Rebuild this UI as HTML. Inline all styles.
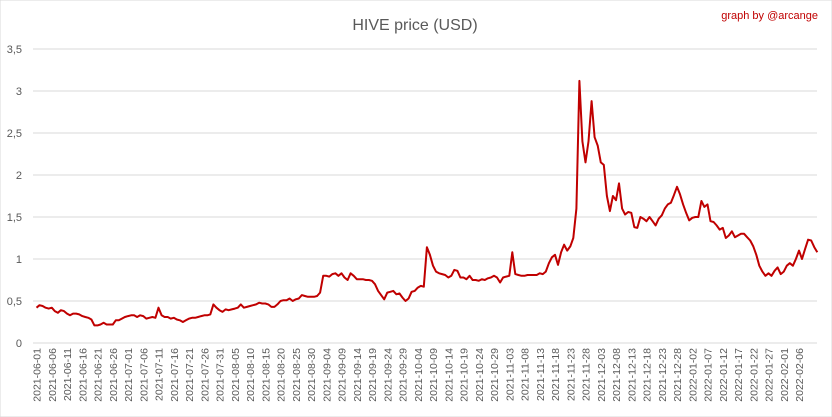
<!DOCTYPE html>
<html><head><meta charset="utf-8"><style>
body{margin:0;background:#fff;}
svg{display:block;font-family:"Liberation Sans",sans-serif;}
</style></head><body>
<svg id="chart" width="832" height="417" viewBox="0 0 832 417">
<rect x="0" y="0" width="832" height="417" fill="#fff" stroke="#d9d9d9"/>
<text x="415" y="30" text-anchor="middle" font-size="16" fill="#595959">HIVE price (USD)</text>
<text x="818" y="19" text-anchor="end" font-size="11" fill="#c00000">graph by @arcange</text>
<g id="grid"></g><g id="ylabels"></g><g id="xlabels"></g><g id="series"></g>
</svg>
<script>
const yTicks=[0,0.5,1,1.5,2,2.5,3,3.5];
const yTickLabels=["0","0,5","1","1,5","2","2,5","3","3,5"];
const startDate="2021-06-01";
const prices=[
0.42,0.45,0.44,0.42,0.41,0.42,0.38,0.36,0.39,0.38,0.35,0.33,0.35,0.35,0.34,0.32,0.31,0.3,0.28,0.21,0.21,0.22,0.24,0.22,0.22,0.22,0.27,0.27,0.29,0.31,
0.32,0.33,0.33,0.31,0.33,0.32,0.29,0.3,0.31,0.3,0.42,0.33,0.31,0.31,0.29,0.3,0.28,0.27,0.25,0.27,0.29,0.3,0.3,0.31,0.32,0.33,0.33,0.34,0.46,0.42,0.39,
0.37,0.4,0.39,0.4,0.41,0.42,0.46,0.42,0.43,0.44,0.45,0.46,0.48,0.47,0.47,0.46,0.43,0.43,0.46,0.5,0.51,0.51,0.53,0.5,0.52,0.53,0.57,0.56,0.55,0.55,0.55,
0.56,0.6,0.8,0.8,0.79,0.82,0.83,0.8,0.83,0.78,0.75,0.83,0.8,0.76,0.76,0.76,0.75,0.75,0.74,0.7,0.62,0.57,0.52,0.6,0.61,0.62,0.58,0.59,0.54,0.5,
0.53,0.61,0.62,0.66,0.68,0.67,1.14,1.05,0.92,0.85,0.83,0.82,0.81,0.78,0.8,0.87,0.86,0.78,0.78,0.76,0.8,0.75,0.75,0.74,0.76,0.75,0.77,0.78,0.8,0.78,0.72,
0.78,0.79,0.8,1.08,0.82,0.81,0.8,0.8,0.81,0.81,0.81,0.81,0.83,0.82,0.85,0.95,1.02,1.05,0.93,1.08,1.17,1.1,1.15,1.25,1.6,3.12,2.4,2.15,2.4,2.88,
2.45,2.35,2.15,2.12,1.75,1.57,1.75,1.7,1.9,1.6,1.53,1.56,1.55,1.38,1.37,1.5,1.48,1.45,1.5,1.45,1.4,1.48,1.52,1.6,1.65,1.67,1.76,1.86,1.77,1.65,1.55,
1.46,1.49,1.5,1.5,1.69,1.62,1.65,1.45,1.44,1.4,1.35,1.37,1.25,1.28,1.33,1.26,1.28,1.3,1.3,1.26,1.22,1.15,1.05,0.92,0.85,0.8,0.83,0.8,0.86,0.9,0.82,
0.85,0.92,0.95,0.92,1.0,1.1,1.0,1.12,1.23,1.22,1.14,1.08
];
const NS="http://www.w3.org/2000/svg";
const x0=36.5,dx=3.05,yBase=343,yScale=84,labelCount=51;
function xPos(i){return x0+dx*i;}
function yPos(v){return yBase-v*yScale;}
const grid=document.getElementById('grid'),yl=document.getElementById('ylabels'),xl=document.getElementById('xlabels'),ser=document.getElementById('series');
yTicks.forEach((t,i)=>{
 const l=document.createElementNS(NS,'line');
 l.setAttribute('x1',33);l.setAttribute('x2',817);l.setAttribute('y1',yPos(t));l.setAttribute('y2',yPos(t));
 l.setAttribute('stroke','#d9d9d9');l.setAttribute('stroke-width','1');
 
 
 grid.appendChild(l);
 const tx=document.createElementNS(NS,'text');
 tx.setAttribute('x',22);tx.setAttribute('y',yPos(t)+4);tx.setAttribute('text-anchor','end');
 tx.setAttribute('font-size','11');tx.setAttribute('fill','#595959');
 tx.textContent=yTickLabels[i];
 
 
 yl.appendChild(tx);
});
const d0=new Date(startDate+"T00:00:00Z");
function fmt(d){return d.toISOString().slice(0,10);}
for(let k=0;k<labelCount && k*5<prices.length;k++){
 const i=k*5;
 const d=new Date(d0.getTime()+i*86400000);
 const tx=document.createElementNS(NS,'text');
 const x=xPos(i)+4;
 tx.setAttribute('transform','translate('+x+',348) rotate(-90)');
 tx.setAttribute('text-anchor','end');tx.setAttribute('font-size','10.5');tx.setAttribute('fill','#595959');
 tx.textContent=fmt(d);
 
 
 xl.appendChild(tx);
}
const p=document.createElementNS(NS,'polyline');
p.setAttribute('points',prices.map((v,i)=>xPos(i).toFixed(1)+','+yPos(v).toFixed(1)).join(' '));
p.setAttribute('fill','none');p.setAttribute('stroke','#c00000');p.setAttribute('stroke-width','2');p.setAttribute('stroke-linejoin','round');


ser.appendChild(p);
</script>
</body></html>
